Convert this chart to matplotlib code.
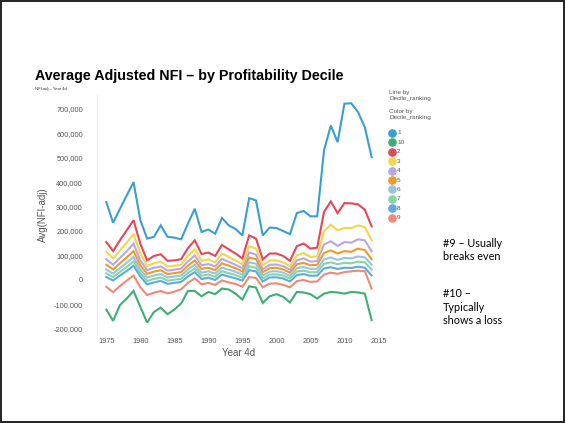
import matplotlib
matplotlib.use("Agg")
import matplotlib.pyplot as plt
from matplotlib.patches import Rectangle
from matplotlib.lines import Line2D

years = list(range(1975, 2015))

d1 = [318, 234, 290, 345, 400, 244, 169, 176, 223, 176, 173, 166, 230, 291, 196, 206, 189, 253, 223, 208,
      182, 334, 325, 182, 214, 212, 200, 187, 273, 282, 260, 260, 529, 631, 563, 720, 722, 686, 624, 502]
d2 = [155, 118, 162, 203, 244, 148, 80, 98, 105, 78, 80, 85, 130, 162, 106, 112, 98, 143, 125, 108,
      88, 182, 169, 84, 108, 108, 98, 78, 138, 149, 128, 132, 278, 321, 273, 314, 313, 309, 287, 219]
d3 = [115, 88, 120, 152, 188, 108, 57, 68, 75, 55, 58, 62, 98, 125, 78, 84, 72, 108, 94, 80,
      64, 138, 128, 60, 80, 80, 72, 56, 100, 110, 94, 96, 199, 226, 203, 212, 212, 223, 216, 162]
d4 = [85, 62, 90, 118, 148, 80, 40, 50, 55, 38, 42, 46, 76, 100, 60, 65, 55, 86, 74, 62,
      48, 112, 104, 44, 62, 63, 56, 42, 80, 88, 75, 77, 145, 158, 139, 155, 152, 166, 162, 117]
d5 = [62, 43, 68, 92, 118, 60, 25, 34, 40, 24, 28, 32, 58, 80, 45, 50, 40, 68, 58, 48,
      35, 92, 85, 32, 48, 50, 43, 30, 64, 70, 60, 62, 110, 121, 108, 118, 115, 128, 122, 85]
d6 = [42, 26, 48, 70, 94, 42, 10, 18, 24, 10, 14, 18, 42, 62, 30, 35, 26, 50, 42, 33,
      22, 72, 66, 18, 34, 36, 30, 17, 48, 53, 45, 46, 84, 92, 82, 90, 88, 96, 92, 62]
d7 = [27, 12, 33, 53, 76, 28, -4, 4, 10, -3, 1, 5, 28, 47, 17, 22, 13, 36, 28, 20,
      10, 56, 50, 6, 22, 23, 18, 6, 34, 38, 31, 32, 66, 72, 64, 70, 68, 75, 72, 42]
d8 = [12, -2, 18, 37, 58, 14, -18, -10, -4, -16, -12, -8, 14, 32, 4, 9, 0, 22, 14, 7,
      -3, 40, 35, -6, 10, 11, 6, -6, 20, 24, 17, 18, 47, 52, 45, 50, 49, 54, 50, 18]
d9 = [-28, -50, -25, -3, 18, -30, -62, -52, -45, -55, -48, -38, -12, 6, -18, -12, -20, -2, -10, -16,
      -28, 12, 8, -30, -15, -14, -20, -30, -5, 0, -8, -6, 22, 30, 25, 32, 35, 38, 36, -35]
d10 = [-121, -167, -103, -76, -45, -110, -174, -131, -113, -140, -121, -96, -45, -45, -67, -49, -58, -35, -39, -56,
       -80, -26, -31, -94, -67, -58, -69, -92, -49, -51, -58, -76, -56, -49, -51, -56, -49, -51, -56, -164]

legend_labels = ["1", "10", "2", "3", "4", "5", "6", "7", "8", "9"]
series = {"1": d1, "10": d10, "2": d2, "3": d3, "4": d4, "5": d5, "6": d6, "7": d7, "8": d8, "9": d9}
colors = {"1": "#3a9fd0", "10": "#3fae74", "2": "#e4475b", "3": "#f2d64b", "4": "#b9a7e2",
          "5": "#f09a2c", "6": "#9cc3de", "7": "#86d6a4", "8": "#5aaae6", "9": "#ef8a78"}

title = "Average Adjusted NFI \u2013 by Profitability Decile"
subtitle = "NFI-adj \u2013 Year 4d"
ylabel = "Avg(NFI-adj)"
xlabel = "Year 4d"
note1 = "#9 \u2013 Usually\nbreaks even"
note2 = "#10 \u2013\nTypically\nshows a loss"

plt.rcParams["font.family"] = ["Liberation Sans", "DejaVu Sans"]

fig = plt.figure(figsize=(5.66, 4.23), dpi=100)
fig.patch.set_facecolor("white")
fig.add_artist(Rectangle((0.002, 0.003), 0.995, 0.994, transform=fig.transFigure,
                         fill=False, edgecolor="#222222", linewidth=1.4))

ax = fig.add_axes([0.171, 0.208, 0.50, 0.567])
draw_order = ["9", "8", "7", "6", "5", "4", "3", "2", "10", "1"]
for k in draw_order:
    vals = [v * 1000 for v in series[k]]
    ax.plot(years, vals, color=colors[k], linewidth=1.5, solid_joinstyle="miter")

ax.set_xlim(1973.6, 2015.2)
ax.set_ylim(-225000, 755000)
ax.set_xticks([1975, 1980, 1985, 1990, 1995, 2000, 2005, 2010, 2015])
yt = list(range(-200000, 700001, 100000))
ax.set_yticks(yt)
ax.set_yticklabels([f"{v:,}" for v in yt])
for s in ["top", "right", "bottom"]:
    ax.spines[s].set_visible(False)
ax.spines["left"].set_color("#eeeeee")
ax.tick_params(axis="y", length=0, labelsize=5.3, colors="#555555", pad=10)
ax.tick_params(axis="x", length=0, labelsize=5.3, colors="#555555", pad=2)
ax.set_ylabel(ylabel, fontsize=7, color="#555555", labelpad=4)
ax.set_xlabel(xlabel, fontsize=7, color="#555555", labelpad=2)

fig.text(35 / 566, 1 - 76 / 423, title, fontsize=10.3, fontweight="bold", va="center", ha="left")
fig.text(35 / 566, 1 - 89 / 423, subtitle, fontsize=3, va="center", ha="left", color="#333333")

# legend
lx = 389 / 566
fig.text(lx, 1 - 90 / 423, "Line by\nDecile_ranking", fontsize=4.6, color="#555555",
         va="top", ha="left", linespacing=1.2)
fig.text(lx, 1 - 109 / 423, "Color by\nDecile_ranking", fontsize=4.6, color="#555555",
         va="top", ha="left", linespacing=1.2)
y0 = 133
for i, lab in enumerate(legend_labels):
    yy = 1 - (y0 + i * 9.4) / 423
    fig.add_artist(Line2D([lx + 3 / 566], [yy], marker="o", markersize=5.2,
                          color=colors[lab], transform=fig.transFigure))
    fig.text(lx + 8 / 566, yy, lab, fontsize=4.6, color="#555555", va="center", ha="left")

fig.text(443 / 566, 1 - 250 / 423, note1, fontsize=7.8, va="center", ha="left",
         family=["Lato", "DejaVu Sans"], linespacing=1.25)
fig.text(443 / 566, 1 - 307 / 423, note2, fontsize=7.8, va="center", ha="left",
         family=["Lato", "DejaVu Sans"], linespacing=1.25)

fig.savefig("out.png", dpi=100, facecolor="white")
